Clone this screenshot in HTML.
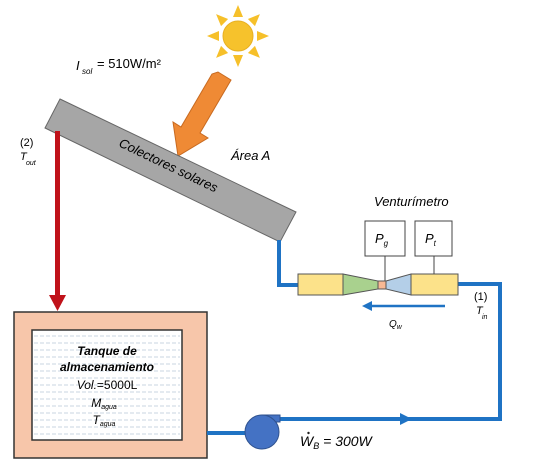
<!DOCTYPE html>
<html><head><style>body{margin:0;background:#fff}svg{display:block}text{font-family:"Liberation Sans",sans-serif}</style></head><body>
<svg width="538" height="469" viewBox="0 0 538 469" xmlns="http://www.w3.org/2000/svg">
<!-- sun -->
<g transform="translate(238,36)" fill="#f6c02a">
<circle r="15" fill="#f6c22c" stroke="#e8b020"/>
<g id="r"><polygon points="-5,-19 5,-19 0,-31"/></g>
<use href="#r" transform="rotate(45)"/><use href="#r" transform="rotate(90)"/><use href="#r" transform="rotate(135)"/>
<use href="#r" transform="rotate(180)"/><use href="#r" transform="rotate(225)"/><use href="#r" transform="rotate(270)"/><use href="#r" transform="rotate(315)"/>
</g>
<text x="76" y="70" font-size="13" font-style="italic">I</text><text x="82" y="74" font-size="8" font-style="italic">sol</text>
<text x="97" y="68" font-size="13">= 510W/m²</text>
<!-- orange arrow -->
<polygon points="218,72 231,80 200,133 208,138 178,156 173,122 181,127 212,74" fill="#ef8a35" stroke="#c86a20"/>
<!-- collector -->
<polygon points="60,99 296,212 280,242 45,128" fill="#a6a6a6" stroke="#666"/>
<text transform="translate(118,146) rotate(25.6)" font-size="13" font-style="italic">Colectores solares</text>
<text x="231" y="160" font-size="13" font-style="italic">Área A</text>
<text x="20" y="146" font-size="11">(2)</text>
<text x="20" y="160" font-size="11" font-style="italic">T</text><text x="26" y="165" font-size="7" font-style="italic">out</text>
<!-- red pipe -->
<rect x="55" y="131" width="5" height="166" fill="#c0121a"/>
<polygon points="49,295 66,295 57.5,311" fill="#c0121a"/>
<!-- tank -->
<rect x="14" y="312" width="193" height="146" fill="#f7c6aa" stroke="#333" stroke-width="1.5"/>
<rect x="32" y="330" width="150" height="110" fill="#fff" stroke="#333" stroke-width="1.5"/>
<g stroke="#c8d4e0" stroke-dasharray="4,2" stroke-width="1">
<line x1="34" y1="336" x2="180" y2="336"/><line x1="34" y1="343" x2="180" y2="343"/><line x1="34" y1="350" x2="180" y2="350"/><line x1="34" y1="357" x2="180" y2="357"/><line x1="34" y1="364" x2="180" y2="364"/><line x1="34" y1="371" x2="180" y2="371"/><line x1="34" y1="378" x2="180" y2="378"/><line x1="34" y1="385" x2="180" y2="385"/><line x1="34" y1="392" x2="180" y2="392"/><line x1="34" y1="399" x2="180" y2="399"/><line x1="34" y1="406" x2="180" y2="406"/><line x1="34" y1="413" x2="180" y2="413"/><line x1="34" y1="420" x2="180" y2="420"/><line x1="34" y1="427" x2="180" y2="427"/><line x1="34" y1="434" x2="180" y2="434"/>
</g>
<g font-size="12" text-anchor="middle">
<text x="107" y="355" font-weight="bold" font-style="italic">Tanque de</text>
<text x="107" y="371" font-weight="bold" font-style="italic">almacenamiento</text>
<text x="107" y="389"><tspan font-style="italic">Vol.</tspan>=5000L</text>
<text x="104" y="407" font-style="italic">M<tspan font-size="7" dy="2">agua</tspan></text>
<text x="104" y="424" font-style="italic">T<tspan font-size="7" dy="2">agua</tspan></text>
</g>
<!-- blue pipes -->
<g stroke="#1f73c4" stroke-width="4" fill="none">
<polyline points="279,240 279,285 300,285"/>
<polyline points="457,284 500,284 500,419 278,419"/>
<line x1="207" y1="433" x2="250" y2="433"/>
<line x1="445" y1="306" x2="370" y2="306" stroke-width="2.5"/>
</g>
<polygon points="362,306 372,301 372,311" fill="#1f73c4"/>
<polygon points="412,419 400,413 400,425" fill="#1f73c4"/>
<!-- pump -->
<rect x="262" y="415" width="18" height="7" fill="#4472c4" stroke="#2f528f"/>
<circle cx="262" cy="432" r="17" fill="#4472c4" stroke="#2f528f"/>
<text x="300" y="446" font-size="14" font-style="italic">W<tspan font-size="9" dy="3">B</tspan><tspan dy="-3"> = 300W</tspan></text>
<circle cx="308.5" cy="433" r="1.2" fill="#222"/>
<!-- venturi -->
<rect x="298" y="274" width="45" height="21" fill="#fce28a" stroke="#555"/>
<polygon points="343,274 378,281 378,289 343,295" fill="#a9d18e" stroke="#555"/>
<rect x="378" y="281" width="8" height="8" fill="#f8b893" stroke="#555"/>
<polygon points="386,281 411,274 411,295 386,289" fill="#b4cfe8" stroke="#555"/>
<rect x="411" y="274" width="47" height="21" fill="#fce28a" stroke="#555"/>
<rect x="365" y="221" width="40" height="35" fill="#fff" stroke="#444"/>
<rect x="415" y="221" width="37" height="35" fill="#fff" stroke="#444"/>
<line x1="385" y1="256" x2="385" y2="281" stroke="#444"/>
<line x1="434" y1="256" x2="434" y2="274" stroke="#444"/>
<text x="375" y="243" font-size="13" font-style="italic">P<tspan font-size="8" dy="3">g</tspan></text>
<text x="425" y="243" font-size="13" font-style="italic">P<tspan font-size="8" dy="3">t</tspan></text>
<text x="374" y="206" font-size="13" font-style="italic">Venturímetro</text>
<text x="389" y="327" font-size="10" font-style="italic">Q<tspan font-size="7" dy="2">w</tspan></text>
<text x="474" y="300" font-size="11">(1)</text>
<text x="476" y="314" font-size="11" font-style="italic">T</text><text x="482" y="319" font-size="7" font-style="italic">in</text>
</svg>
</body></html>
